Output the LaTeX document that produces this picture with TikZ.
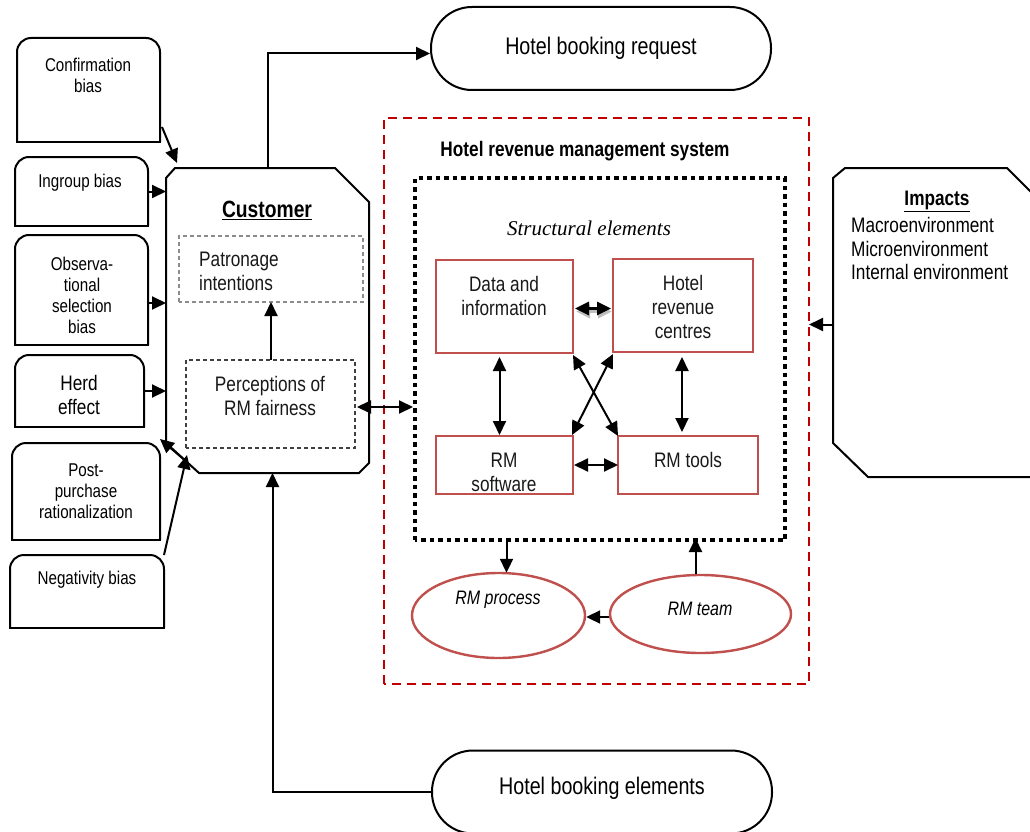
\documentclass[tikz,border=0pt]{standalone}
\usepackage{fontspec}
\setmainfont[FakeStretch=0.82]{Liberation Sans}
\newfontfamily\timesfam{Liberation Serif}
\usetikzlibrary{arrows.meta,calc,shapes.geometric}
\definecolor{rmred}{HTML}{C0504D}
\definecolor{dred}{HTML}{C00000}
\newcommand\fbias{\fontsize{18.5pt}{21pt}\selectfont}
\newcommand\fmid{\fontsize{21pt}{24pt}\selectfont}
\newcommand\fbig{\fontsize{24pt}{27pt}\selectfont}
\tikzset{
  arr/.style={-{Triangle[length=14pt,width=13pt]}, line width=2pt},
  darr/.style={{Triangle[length=14pt,width=13pt]}-{Triangle[length=14pt,width=13pt]}, line width=2pt},
  holder/.style={inner sep=0pt, outer sep=0pt},
  btext/.style={align=center, font=\fbias, inner sep=0pt},
  rmbox/.style={draw=rmred, line width=2.2pt, inner sep=0pt, outer sep=0pt},
  rmtext/.style={align=center, font=\fmid, text=black!90, inner sep=0pt},
  oval/.style={draw, line width=2pt, rounded corners=41pt, minimum width=340pt, minimum height=83pt, font=\fbig},
  rmell/.style={draw=rmred, line width=2.4pt, ellipse, inner sep=0pt},
  pbox/.style={dash pattern=on 4pt off 3pt, line width=1.2pt, inner sep=0pt},
}
\begin{document}
\begin{tikzpicture}[x=1pt,y=-1pt]
\clip (0,0) rectangle (1030,832);
\fill[white] (0,0) rectangle (1030,832);

% ---------- bias boxes ----------
\node[holder, minimum width=143pt, minimum height=104pt] (conf) at (88.5,90) {};
\node[holder, minimum width=133pt, minimum height=69pt]  (ingr) at (81.5,191.5) {};
\node[holder, minimum width=133pt, minimum height=110pt] (obs)  at (81.5,290) {};
\node[holder, minimum width=129pt, minimum height=72pt]  (herd) at (79.5,391) {};
\node[holder, minimum width=148pt, minimum height=97pt]  (post) at (86,491.5) {};
\node[holder, minimum width=154pt, minimum height=73pt]  (neg)  at (87,591.5) {};
\foreach \n in {conf,ingr,obs,herd,post,neg}{
  \draw[line width=2pt, rounded corners=14pt] (\n.south west) -- (\n.north west) -- (\n.north east) -- (\n.south east);
  \draw[line width=2.4pt, line cap=rect] (\n.south west) -- (\n.south east);
}
\node[btext] (conft) at (88,75.5) {Confirmation\\bias};
\node[btext] (ingrt) at (80,183) {Ingroup bias};
\node[btext] (obst)  at (82,295.5) {Observa-\\tional\\selection\\bias};
\node[btext, font=\fontsize{21pt}{24pt}\selectfont] (herdt) at (79,395) {Herd\\effect};
\node[btext] (postt) at (86,491) {Post-\\purchase\\rationalization};
\node[btext] (negt)  at (87,580) {Negativity bias};

% ---------- customer ----------
\node[holder, minimum width=203pt, minimum height=305pt] (cust) at (267.5,320.5) {};
\draw[line width=2pt] ($(cust.north west)+(9,0)$) -- ($(cust.north east)+(-34,0)$) -- ($(cust.north east)+(0,34)$)
  -- ($(cust.south east)+(0,-10)$) -- ($(cust.south east)+(-10,0)$) -- ($(cust.south west)+(33,0)$)
  -- ($(cust.south west)+(0,-30)$) -- ($(cust.north west)+(0,10)$) -- cycle;
\node[font=\fontsize{23.5pt}{26pt}\selectfont\bfseries, inner sep=0pt] (custt) at (267,210) {\underline{Customer}};
\node[holder, minimum width=184pt, minimum height=66pt] (patr) at (271,269) {};
\draw[pbox, draw=black!45] (patr.south west) rectangle (patr.north east);
\node[align=left, font=\fmid, anchor=west, inner sep=0pt, text=black!90] (patrt) at (199,271.5) {Patronage\\intentions};
\node[holder, minimum width=169pt, minimum height=88pt] (perc) at (270.5,404) {};
\draw[pbox, draw=black!75] (perc.south west) rectangle (perc.north east);
\node[rmtext] (perct) at (270,396) {Perceptions of\\RM fairness};
\draw[arr] (perc.north -| patr.south) -- (patr.south);

% bias arrows
\coordinate (confa) at (177,163);
\draw[arr] ($(conf.south east)+(2,-15)$) -- (confa);
\draw[arr] (ingr.east) -- (ingr.east -| cust.west);
\draw[arr] ($(obs.east)+(0,13)$) -- ($(obs.east -| cust.west)+(0,13)$);
\draw[arr] (herd.east) -- (herd.east -| cust.west);
\coordinate (chamf) at (184,459.5);
\draw[arr] (chamf) -- ($(post.north east)+(0,-4)$);
\coordinate (nega) at (187,455);
\draw[arr] (neg.north east) -- (nega);

% ---------- top / bottom ovals ----------
\node[oval] (req) at (601,48.5) {Hotel booking request};
\node[oval] (bel) at (602,792) {};
\node[font=\fbig, inner sep=0pt] (belt) at (602,788) {Hotel booking elements};
\draw[arr] (cust.north) |- ($(req.west)+(0,5)$);
\draw[arr] (bel.west) -| ($(cust.south)+(5,0)$);

% ---------- revenue management system ----------
\node[holder, minimum width=425pt, minimum height=566pt] (hrms) at (596.5,401) {};
\draw[draw=dred, line width=2.2pt, dash pattern=on 9pt off 6pt] (hrms.south west) rectangle (hrms.north east);
\node[font=\fontsize{21pt}{23pt}\selectfont\bfseries, inner sep=0pt] (hrmst) at (585,151) {Hotel revenue management system};

\node[holder, minimum width=370pt, minimum height=362pt] (struct) at (600,359) {};
\draw[line width=4.5pt, dash pattern=on 4.5pt off 4pt] (struct.south west) rectangle (struct.north east);
\node[font=\timesfam\itshape\fontsize{21pt}{23pt}\selectfont, inner sep=0pt] (structt) at (589,228) {Structural elements};

\node[rmbox, minimum width=137pt, minimum height=93pt] (data) at (504.5,306.5) {};
\node[rmtext] (datat) at (504,295.5) {Data and\\information};
\node[rmbox, minimum width=140pt, minimum height=93pt] (hrc) at (683,305.5) {};
\node[rmtext] (hrct) at (683,307) {Hotel\\revenue\\centres};
\node[rmbox, minimum width=137pt, minimum height=58pt] (rmsw) at (504.5,465) {};
\node[rmtext] (rmswt) at (504,472.5) {RM\\software};
\node[rmbox, minimum width=140pt, minimum height=58pt] (tools) at (688,465) {};
\node[rmtext] (toolst) at (688,460) {RM tools};

\draw[darr, line width=3.5pt, black!25] ($(data.east)+(3,5)$) -- ($(data.east -| hrc.west)+(-1,5)$);
\draw[darr, line width=3pt] ($(data.east)+(2,2)$) -- ($(data.east -| hrc.west)+(-2,2)$);
\draw[darr] ($(data.south)+(-5,4)$) -- ($(data.south |- rmsw.north)+(-5,-1)$);
\draw[darr] ($(hrc.south)+(-1,5)$) -- ($(hrc.south |- tools.north)+(-1,-4)$);
\draw[darr] ($(rmsw.east)+(1,0)$) -- (rmsw.east -| tools.west);
\draw[darr] ($(data.south east)+(0,2)$) -- (tools.north west);
\draw[darr] ($(hrc.south west)+(0,2)$) -- ($(rmsw.north east)+(-1,-1)$);

\node[rmell, minimum width=173pt, minimum height=85pt] (proc) at (498.5,615.5) {};
\node[font=\itshape\fontsize{19.5pt}{22pt}\selectfont, inner sep=0pt] (proct) at (498,600) {RM process};
\node[rmell, minimum width=181pt, minimum height=78pt] (team) at (700.5,614) {};
\node[font=\itshape\fontsize{19.5pt}{22pt}\selectfont, inner sep=0pt] (teamt) at (700,609) {RM team};
\draw[arr] ($(struct.south -| proc.north)+(8,2)$) -- ($(proc.north)+(8,1)$);
\draw[arr] ($(team.north)+(-5,0)$) -- ($(team.north |- struct.south)+(-5,-2)$);
\draw[arr] ($(team.west)+(0,3)$) -- ($(team.west -| proc.east)+(0,3)$);

% customer <-> system
\draw[darr] ($(perc.east)+(2,3)$) -- ($(perc.east -| struct.west)+(-2,3)$);

% ---------- impacts ----------
\node[holder, minimum width=207pt, minimum height=309pt] (imp) at (936.5,322.5) {};
\draw[line width=2pt] ($(imp.north east)+(0,33)$) -- ($(imp.north east)+(-33,0)$) -- ($(imp.north west)+(12,0)$)
  -- ($(imp.north west)+(0,10)$) -- ($(imp.south west)+(0,-34)$) -- ($(imp.south west)+(35,0)$) -- (imp.south east);
\node[font=\fontsize{21pt}{23pt}\selectfont\bfseries, inner sep=0pt] (impt) at (937,201) {\underline{Impacts}};
\node[align=left, anchor=west, font=\fontsize{21pt}{23.5pt}\selectfont, inner sep=0pt] (impl) at (851,248.5) {Macroenvironment\\Microenvironment\\Internal environment};
\draw[arr] ($(imp.west)+(0,2)$) -- ($(imp.west -| hrms.east)+(0,2)$);
\end{tikzpicture}
\end{document}
